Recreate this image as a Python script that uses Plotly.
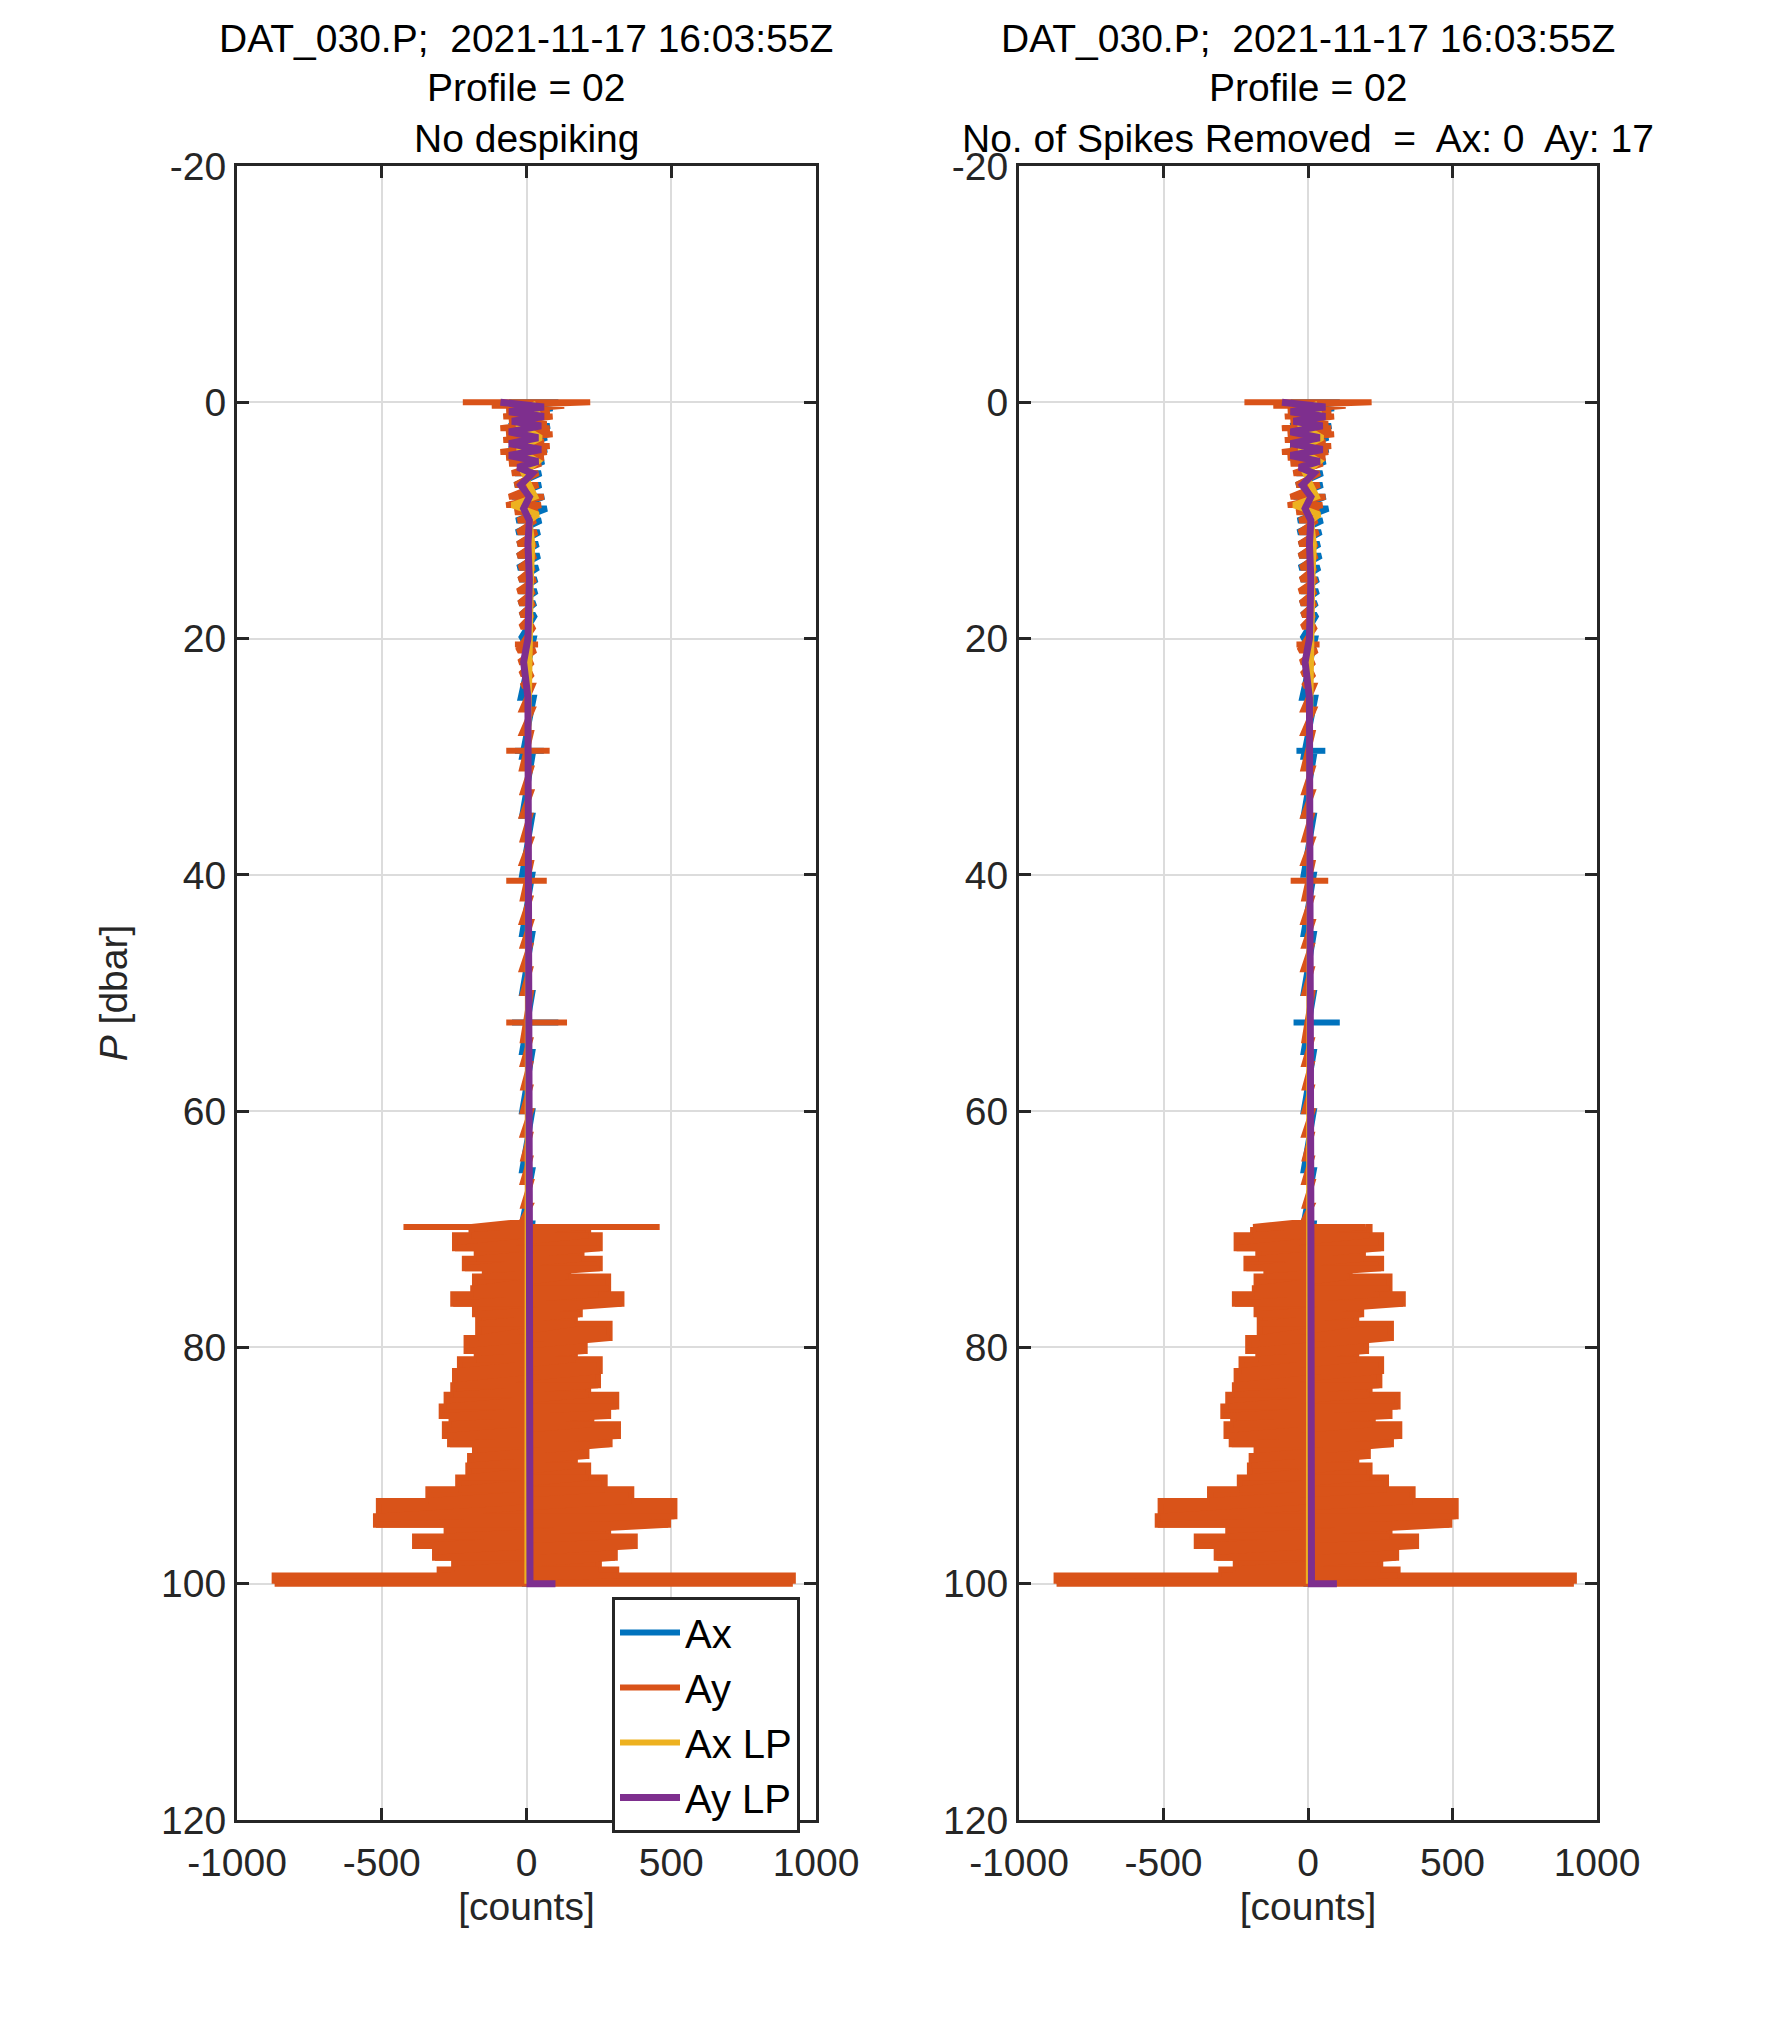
import plotly.graph_objects as go

# ---- data (pressure in dbar, counts) ----
# Ay envelope after despiking, shallow part
ay_p_top = [0, 0.3, 0.7, 1.2, 1.7, 2.2, 2.7, 3.2, 3.7, 4.2, 4.7, 5.2, 6, 7, 8, 8.7, 9.3, 10, 11, 12,
            13, 14, 15, 16, 17, 18, 19, 21, 22, 23, 24, 26, 28, 31, 33, 35, 37, 39, 42, 44,
            46, 48, 50, 54, 56, 58, 60, 62, 64, 66, 68, 69.3]
ay_lo_top = [-220, -120, -70, -80, -60, -90, -70, -80, -60, -90, -70, -60, -50, -40, -60, -70, -40, -30, -30, -30,
             -30, -25, -25, -30, -25, -20, -20, -30, -25, -20, -15, -15, -15, -15, -12, -15, -12, -15, -12, -15,
             -12, -15, -12, -12, -12, -10, -12, -12, -10, -12, -10, -15]
ay_hi_top = [220, 130, 80, 90, 70, 80, 90, 60, 80, 70, 60, 50, 40, 40, 60, 50, 40, 30, 35, 30,
             30, 25, 30, 25, 25, 20, 25, 30, 20, 20, 20, 20, 15, 15, 15, 12, 15, 15, 12, 15,
             12, 12, 15, 12, 12, 12, 15, 12, 12, 15, 12, 15]
# Ay envelope, deep noisy part
ay_p_deep = [69.8, 70.5, 71.6, 72.5, 73.3, 74, 75, 75.5, 76.3, 77.2, 78, 79.2, 80.3, 81, 82, 83.2, 84,
             85, 85.8, 86.5, 87.5, 88.2, 89.2, 90, 91, 92, 93, 94.3, 95, 96, 96.8, 97.8, 98.8, 99.3, 100]
ay_lo_deep = [-190, -190, -247, -172, -213, -144, -178, -184, -253, -178, -167, -167, -207, -172, -230, -247, -253,
              -276, -293, -259, -282, -264, -178, -195, -201, -236, -339, -510, -520, -276, -385, -316, -250, -300, -870]
ay_hi_deep = [200, 213, 253, 190, 253, 144, 282, 247, 328, 184, 167, 287, 201, 167, 253, 247, 213,
              310, 282, 224, 316, 287, 207, 167, 213, 270, 362, 511, 489, 282, 374, 305, 250, 310, 920]
# Ay spikes: raw record and what is left after despiking
ay_spk_p = [20.5, 29.5, 40.5, 52.5, 69.8]
ay_spk_lo = [-40, -70, -70, -70, -425]
ay_spk_hi = [40, 80, 70, 140, 460]
ay_keep_p = [20.5, 40.5]
ay_keep_lo = [-40, -60]
ay_keep_hi = [40, 70]

# Ax envelope
ax_p = [0, 0.5, 1, 2, 3, 4, 5, 6, 7, 8, 9, 10, 11, 12, 13, 14, 15, 16, 17, 18, 20, 25, 30, 35, 40,
        45, 50, 55, 60, 65, 69.5, 75, 80, 85, 90, 95, 100]
ax_lo = [-60, -40, -50, -60, -50, -60, -50, -40, -40, -50, -40, -35, -35, -30, -30, -30, -25, -25, -25, -20,
         -20, -20, -15, -15, -15, -15, -15, -15, -15, -15, -15, -5, -5, -5, -5, -5, -5]
ax_hi = [110, 90, 70, 80, 70, 70, 60, 50, 50, 60, 70, 50, 45, 40, 45, 40, 35, 35, 30, 30,
         25, 25, 20, 20, 20, 20, 20, 20, 20, 20, 20, 8, 8, 8, 8, 8, 8]
ax_spk_p = [29.5, 52.5]
ax_spk_lo = [-40, -50]
ax_spk_hi = [60, 110]

# low-passed signals
axlp_p = [0, 1, 2, 3, 4, 5, 6, 8, 8.7, 9.5, 10, 12, 15, 20, 30, 40, 50, 60, 69, 70, 100]
axlp_x = [20, 40, -20, 50, -30, 40, -10, 30, -50, 40, 10, 20, 15, 10, 5, 5, 5, 5, 5, 3, 3]
aylp_p = [0, 0.4, 0.8, 1.2, 1.6, 2, 2.5, 3, 3.5, 4, 4.5, 5, 5.5, 6, 7, 8, 9, 10, 12, 15, 20, 22, 25,
          30, 40, 50, 60, 69, 70, 100, 100]
aylp_x = [-90, 60, -60, 60, -50, 50, -60, 40, -60, 50, -60, 40, -30, 20, -20, 10, -10, 10, 5, 10, 5, -10, 5,
          5, 5, 5, 5, 5, 10, 12, 100]

x_ticks = [-1000, -500, 0, 500, 1000]
y_ticks = [-20, 0, 20, 40, 60, 80, 100, 120]

C_AX, C_AY, C_AXLP, C_AYLP = '#0072BD', '#D95319', '#EDB120', '#7E2F8E'
FONT = 'Liberation Sans'
TXT = '#262626'
FS = 39


def zigzag(p, lo, hi):
    xs, ys = [], []
    for pi, l, h in zip(p, lo, hi):
        xs += [l, h]
        ys += [pi, pi]
    return xs, ys


def bars(p, lo, hi):
    xs, ys = [], []
    for pi, l, h in zip(p, lo, hi):
        xs += [l, h, None]
        ys += [pi, pi, None]
    return xs, ys


fig = go.Figure()
ay_p = ay_p_top + ay_p_deep
ay_lo = ay_lo_top + ay_lo_deep
ay_hi = ay_hi_top + ay_hi_deep

for k, (xa, ya) in enumerate([('x', 'y'), ('x2', 'y2')]):
    leg = k == 0
    zx, zy = zigzag(ax_p, ax_lo, ax_hi)
    fig.add_trace(go.Scatter(x=zx, y=zy, mode='lines', line=dict(color=C_AX, width=6),
                             name='Ax', showlegend=leg, xaxis=xa, yaxis=ya))
    sx, sy = bars(ax_spk_p, ax_spk_lo, ax_spk_hi)
    fig.add_trace(go.Scatter(x=sx, y=sy, mode='lines', line=dict(color=C_AX, width=6),
                             showlegend=False, xaxis=xa, yaxis=ya))
    # stepped outline of the dense deep part, filled
    fig.add_trace(go.Scatter(x=ay_hi_deep, y=ay_p_deep, mode='lines', line=dict(color=C_AY, width=6, shape='hv'),
                             showlegend=False, xaxis=xa, yaxis=ya))
    fig.add_trace(go.Scatter(x=ay_lo_deep, y=ay_p_deep, mode='lines', line=dict(color=C_AY, width=6, shape='hv'),
                             fill='tonextx', fillcolor=C_AY, showlegend=False, xaxis=xa, yaxis=ya))
    zx, zy = zigzag(ay_p, ay_lo, ay_hi)
    fig.add_trace(go.Scatter(x=zx, y=zy, mode='lines', line=dict(color=C_AY, width=6),
                             name='Ay', showlegend=leg, xaxis=xa, yaxis=ya))
    if k == 0:
        sx, sy = bars(ay_spk_p, ay_spk_lo, ay_spk_hi)
    else:
        sx, sy = bars(ay_keep_p, ay_keep_lo, ay_keep_hi)
    fig.add_trace(go.Scatter(x=sx, y=sy, mode='lines', line=dict(color=C_AY, width=6),
                             showlegend=False, xaxis=xa, yaxis=ya))
    fig.add_trace(go.Scatter(x=axlp_x, y=axlp_p, mode='lines', line=dict(color=C_AXLP, width=6),
                             name='Ax LP', showlegend=leg, xaxis=xa, yaxis=ya))
    fig.add_trace(go.Scatter(x=aylp_x, y=aylp_p, mode='lines', line=dict(color=C_AYLP, width=7),
                             name='Ay LP', showlegend=leg, xaxis=xa, yaxis=ya))

W, H = 1772, 2042
TOP, BOT = 158, 1812
axis_common = dict(showline=True, linecolor=TXT, linewidth=3, mirror='ticks', ticks='inside',
                   ticklen=12, tickwidth=3, tickcolor=TXT, showgrid=True, gridcolor='#DCDCDC',
                   gridwidth=2, zeroline=False, automargin=False,
                   tickfont=dict(family=FONT, size=FS, color=TXT))
xt = dict(text='[counts]', font=dict(family=FONT, size=FS, color=TXT), standoff=10)
xtk = dict(tickvals=x_ticks, ticktext=[str(v) for v in x_ticks], ticklabelstandoff=6)
ytk = dict(tickvals=y_ticks, ticktext=[str(v) for v in y_ticks])
fig.update_layout(
    width=W, height=H, margin=dict(l=0, r=0, t=0, b=0),
    paper_bgcolor='white', plot_bgcolor='white', template='none',
    xaxis=dict(domain=[229 / W, 808 / W], range=[-1000, 1000], anchor='y', title=xt, **xtk, **axis_common),
    yaxis=dict(domain=[1 - BOT / H, 1 - TOP / H], range=[120, -20], anchor='x',
               title=dict(text='<i>P</i> [dbar]', font=dict(family=FONT, size=FS, color=TXT), standoff=22),
               **ytk, **axis_common),
    xaxis2=dict(domain=[1011 / W, 1589 / W], range=[-1000, 1000], anchor='y2', title=xt, **xtk, **axis_common),
    yaxis2=dict(domain=[1 - BOT / H, 1 - TOP / H], range=[120, -20], anchor='x2', **ytk, **axis_common),
    legend=dict(x=792 / W, xanchor='right', y=1 - 1589 / H, yanchor='top', bgcolor='white',
                bordercolor=TXT, borderwidth=3, font=dict(family=FONT, size=FS + 1, color='black'),
                tracegroupgap=0, itemwidth=60, traceorder='normal'),
    showlegend=True,
)

titles = [
    (518, ['DAT_030.P;  2021-11-17 16:03:55Z', 'Profile = 02', 'No despiking']),
    (1300, ['DAT_030.P;  2021-11-17 16:03:55Z', 'Profile = 02', 'No. of Spikes Removed  =  Ax: 0  Ay: 17']),
]
for cx, lines in titles:
    for i, t in enumerate(lines):
        fig.add_annotation(x=cx / W, y=1 - (30 + 50 * i) / H, xref='paper', yref='paper', text=t,
                           showarrow=False, xanchor='center', yanchor='middle',
                           font=dict(family=FONT, size=FS, color='black'))

fig.write_html("out.html")
